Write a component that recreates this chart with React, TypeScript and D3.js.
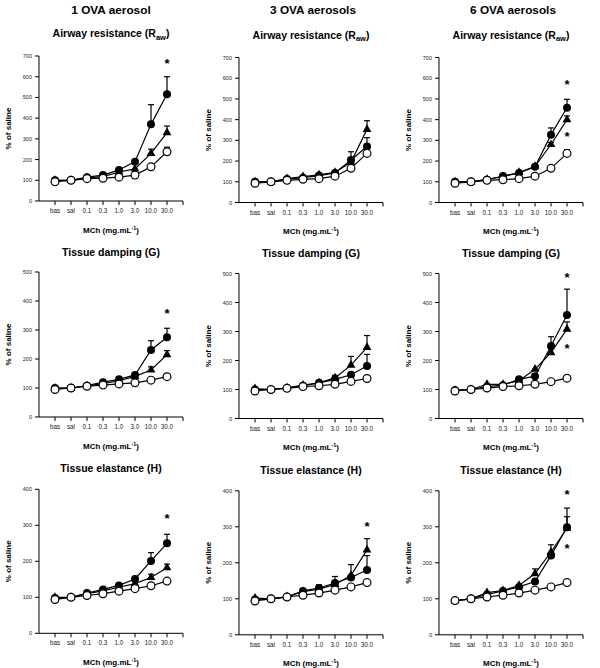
import React from "react";
import * as d3 from "d3";

// ---------- categories / labels ----------
const doses = ["bas", "sal", "0.1", "0.3", "1.0", "3.0", "10.0", "30.0"];
const groupTitles = ["1 OVA aerosol", "3 OVA aerosols", "6 OVA aerosols"];
const paramTitles = ["Airway resistance", "Tissue damping (G)", "Tissue elastance (H)"];
const yMaxes = [700, 500, 400];
const yLabel = "% of saline";

// ---------- Airway resistance (Raw) ----------
const raw1Filled = [100, 100, 115, 125, 150, 190, 370, 515];
const raw1FilledSem = [0, 0, 0, 0, 0, 0, 95, 85];
const raw1Tri = [100, 100, 112, 118, 140, 155, 230, 330];
const raw1TriSem = [0, 0, 0, 0, 0, 0, 20, 32];
const raw1Open = [93, 100, 108, 110, 115, 125, 165, 238];
const raw1OpenSem = [0, 0, 0, 0, 0, 0, 0, 22];
const raw1Stars = [674];

const raw3Filled = [100, 100, 113, 120, 130, 143, 205, 270];
const raw3FilledSem = [0, 0, 0, 0, 0, 0, 40, 43];
const raw3Tri = [100, 100, 115, 125, 133, 145, 195, 353];
const raw3TriSem = [0, 0, 0, 0, 0, 0, 0, 42];
const raw3Open = [93, 100, 107, 112, 115, 127, 165, 237];
const raw3OpenSem = [0, 0, 0, 0, 0, 0, 0, 18];
const raw3Stars: number[] = [];

const raw6Filled = [100, 100, 110, 128, 143, 172, 327, 458];
const raw6FilledSem = [0, 0, 0, 0, 0, 0, 33, 40];
const raw6Tri = [100, 100, 112, 125, 145, 175, 280, 400];
const raw6TriSem = [0, 0, 0, 0, 0, 0, 10, 18];
const raw6Open = [93, 100, 107, 110, 115, 127, 165, 237];
const raw6OpenSem = [0, 0, 0, 0, 0, 0, 0, 18];
const raw6Stars = [582, 332];

// ---------- Tissue damping (G) ----------
const g1Filled = [100, 100, 108, 120, 130, 145, 231, 275];
const g1FilledSem = [0, 0, 0, 0, 0, 0, 32, 31];
const g1Tri = [100, 100, 107, 115, 125, 140, 162, 215];
const g1TriSem = [0, 0, 0, 0, 0, 0, 11, 14];
const g1Open = [95, 100, 106, 110, 114, 118, 127, 139];
const g1OpenSem = [0, 0, 0, 0, 0, 0, 0, 0];
const g1Stars = [367];

const g3Filled = [100, 100, 105, 113, 123, 135, 151, 181];
const g3FilledSem = [0, 0, 0, 0, 0, 0, 0, 40];
const g3Tri = [103, 100, 106, 115, 123, 140, 184, 245];
const g3TriSem = [0, 0, 0, 0, 0, 9, 30, 41];
const g3Open = [95, 100, 104, 110, 113, 118, 128, 138];
const g3OpenSem = [0, 0, 0, 0, 0, 0, 0, 0];
const g3Stars: number[] = [];

const g6Filled = [97, 100, 110, 115, 135, 146, 250, 357];
const g6FilledSem = [0, 0, 0, 0, 0, 0, 32, 89];
const g6Tri = [97, 100, 118, 118, 130, 170, 227, 308];
const g6TriSem = [0, 0, 0, 0, 0, 0, 0, 25];
const g6Open = [95, 100, 105, 110, 113, 118, 127, 139];
const g6OpenSem = [0, 0, 0, 0, 0, 0, 0, 0];
const g6Stars = [494, 250];

// ---------- Tissue elastance (H) ----------
const h1Filled = [98, 100, 112, 122, 133, 151, 201, 250];
const h1FilledSem = [0, 0, 0, 0, 0, 0, 23, 25];
const h1Tri = [100, 100, 110, 118, 128, 138, 155, 182];
const h1TriSem = [0, 0, 0, 0, 0, 0, 9, 10];
const h1Open = [94, 100, 105, 110, 117, 124, 132, 145];
const h1OpenSem = [0, 0, 0, 0, 0, 0, 0, 0];
const h1Stars = [326];

const h3Filled = [98, 100, 105, 122, 130, 144, 159, 180];
const h3FilledSem = [0, 0, 0, 0, 0, 0, 0, 40];
const h3Tri = [102, 100, 106, 120, 127, 140, 165, 236];
const h3TriSem = [0, 0, 0, 0, 12, 22, 30, 31];
const h3Open = [94, 100, 105, 110, 116, 124, 133, 145];
const h3OpenSem = [0, 0, 0, 0, 0, 0, 0, 0];
const h3Stars = [308];

const h6Filled = [95, 100, 112, 122, 133, 148, 220, 299];
const h6FilledSem = [0, 0, 0, 0, 0, 0, 0, 53];
const h6Tri = [95, 100, 117, 123, 137, 170, 230, 296];
const h6TriSem = [0, 0, 0, 0, 0, 13, 20, 32];
const h6Open = [95, 100, 105, 110, 116, 124, 133, 145];
const h6OpenSem = [0, 0, 0, 0, 0, 0, 0, 0];
const h6Stars = [396, 248];

type Series = { kind: "filled" | "tri" | "open"; mean: number[]; sem: number[] };
type Panel = { series: Series[]; stars: number[] };

const mk = (f: number[], fs: number[], t: number[], ts: number[], o: number[], os: number[], stars: number[]): Panel => ({
  series: [
    { kind: "filled", mean: f, sem: fs },
    { kind: "tri", mean: t, sem: ts },
    { kind: "open", mean: o, sem: os },
  ],
  stars,
});

const panels: Panel[][] = [
  [
    mk(raw1Filled, raw1FilledSem, raw1Tri, raw1TriSem, raw1Open, raw1OpenSem, raw1Stars),
    mk(raw3Filled, raw3FilledSem, raw3Tri, raw3TriSem, raw3Open, raw3OpenSem, raw3Stars),
    mk(raw6Filled, raw6FilledSem, raw6Tri, raw6TriSem, raw6Open, raw6OpenSem, raw6Stars),
  ],
  [
    mk(g1Filled, g1FilledSem, g1Tri, g1TriSem, g1Open, g1OpenSem, g1Stars),
    mk(g3Filled, g3FilledSem, g3Tri, g3TriSem, g3Open, g3OpenSem, g3Stars),
    mk(g6Filled, g6FilledSem, g6Tri, g6TriSem, g6Open, g6OpenSem, g6Stars),
  ],
  [
    mk(h1Filled, h1FilledSem, h1Tri, h1TriSem, h1Open, h1OpenSem, h1Stars),
    mk(h3Filled, h3FilledSem, h3Tri, h3TriSem, h3Open, h3OpenSem, h3Stars),
    mk(h6Filled, h6FilledSem, h6Tri, h6TriSem, h6Open, h6OpenSem, h6Stars),
  ],
];

// ---------- layout ----------
const W = 600;
const H = 668;
const FONT = "Arial, 'Liberation Sans', Helvetica, sans-serif";
const colX = [0, 200, 400];
const colDy = [0, 1.5, 1.5];
const axisLeft = 39;
const axisRight = 183;
const rowTop = [56, 272, 489.3];
const rowBottom = [201, 417, 633.3];
const subtitleY = [37, 255.5, 472];

const triPath = d3.symbol().type(d3.symbolTriangle).size(34)() as string;

function PanelView({ r, c }: { r: number; c: number }) {
  const p = panels[r][c];
  const ox = colX[c];
  const dy = colDy[c];
  const x = d3.scaleLinear().domain([0, doses.length + 1]).range([ox + axisLeft, ox + axisRight]);
  const y = d3.scaleLinear().domain([0, yMaxes[r]]).range([rowBottom[r] + dy, rowTop[r] + dy]);
  const yTicks = d3.range(0, yMaxes[r] + 1, 100);
  const line = d3
    .line<number>()
    .x((_, i) => x(i + 1))
    .y((v) => y(v));
  const cx = ox + (axisLeft + axisRight) / 2;
  const y0 = y(0);
  const xTickPos = [...doses.map((_, i) => i + 1), doses.length + 1];

  return (
    <g>
      {/* subtitle */}
      <text x={cx} y={subtitleY[r] + dy} textAnchor="middle" fontSize={10.5} fontWeight="bold" fontFamily={FONT}>
        {r === 0 ? (
          <>
            <tspan>Airway resistance (R</tspan>
            <tspan fontSize={7.5} dy={2.5}>aw</tspan>
            <tspan dy={-2.5}>)</tspan>
          </>
        ) : (
          paramTitles[r]
        )}
      </text>
      {/* y axis */}
      <line x1={ox + axisLeft} x2={ox + axisLeft} y1={y(yMaxes[r])} y2={y0} stroke="#000" strokeWidth={1} />
      {yTicks.map((t) => (
        <g key={t}>
          <line x1={ox + axisLeft - 4} x2={ox + axisLeft} y1={y(t)} y2={y(t)} stroke="#000" strokeWidth={1} />
          <text x={ox + axisLeft - 7} y={y(t) + 2} textAnchor="end" fontSize={5.5} fontFamily={FONT} fill="#222">
            {t}
          </text>
        </g>
      ))}
      {/* x axis */}
      <line x1={ox + axisLeft} x2={ox + axisRight} y1={y0} y2={y0} stroke="#000" strokeWidth={1} />
      {xTickPos.map((t) => (
        <line key={t} x1={x(t)} x2={x(t)} y1={y0} y2={y0 + 4} stroke="#000" strokeWidth={1} />
      ))}
      {doses.map((d, i) => (
        <text key={d} x={x(i + 1)} y={y0 + 12} textAnchor="middle" fontSize={6.3} fontFamily={FONT} fill="#222">
          {d}
        </text>
      ))}
      {/* x label */}
      <text x={cx} y={y0 + 31.5} textAnchor="middle" fontSize={8} fontWeight="bold" fontFamily={FONT}>
        <tspan>MCh (mg.mL</tspan>
        <tspan fontSize={5.5} dy={-3}>-1</tspan>
        <tspan dy={3}>)</tspan>
      </text>
      {/* y label */}
      <text
        transform={`translate(${ox + 11},${(y(yMaxes[r]) + y0) / 2}) rotate(-90)`}
        textAnchor="middle"
        fontSize={8}
        fontWeight="bold"
        fontFamily={FONT}
      >
        {yLabel}
      </text>
      {/* lines */}
      {p.series.map((s) => (
        <path key={s.kind} d={line(s.mean) as string} fill="none" stroke="#000" strokeWidth={1.2} />
      ))}
      {/* error bars */}
      {p.series.map((s) =>
        s.mean.map((m, i) =>
          s.sem[i] > 0 ? (
            <g key={s.kind + i}>
              <line x1={x(i + 1)} x2={x(i + 1)} y1={y(m)} y2={y(m + s.sem[i])} stroke="#000" strokeWidth={1.2} />
              <line x1={x(i + 1) - 3} x2={x(i + 1) + 3} y1={y(m + s.sem[i])} y2={y(m + s.sem[i])} stroke="#000" strokeWidth={1.2} />
            </g>
          ) : null
        )
      )}
      {/* markers */}
      {p.series.map((s) =>
        s.mean.map((m, i) => {
          const px = x(i + 1);
          const py = y(m);
          if (s.kind === "filled") return <circle key={s.kind + i} cx={px} cy={py} r={4} fill="#000" />;
          if (s.kind === "tri") return <path key={s.kind + i} d={triPath} transform={`translate(${px},${py})`} fill="#000" />;
          return <circle key={s.kind + i} cx={px} cy={py} r={3.9} fill="#fff" stroke="#000" strokeWidth={1.2} />;
        })
      )}
      {/* significance stars */}
      {p.stars.map((v, k) => (
        <text key={k} x={x(doses.length)} y={y(v) + 7} textAnchor="middle" fontSize={13} fontWeight="bold" fontFamily={FONT}>
          *
        </text>
      ))}
    </g>
  );
}

export default function App() {
  return (
    <svg width={W} height={H} style={{ position: "absolute", left: 0, top: 0, background: "#fff" }}>
      <rect width={W} height={H} fill="#fff" />
      {groupTitles.map((t, c) => (
        <text key={t} x={colX[c] + (axisLeft + axisRight) / 2 + (c === 0 ? 0 : 2)} y={13.8} textAnchor="middle" fontSize={11.8} fontWeight="bold" fontFamily={FONT}>
          {t}
        </text>
      ))}
      {[0, 1, 2].map((r) => [0, 1, 2].map((c) => <PanelView key={`${r}-${c}`} r={r} c={c} />))}
    </svg>
  );
}
